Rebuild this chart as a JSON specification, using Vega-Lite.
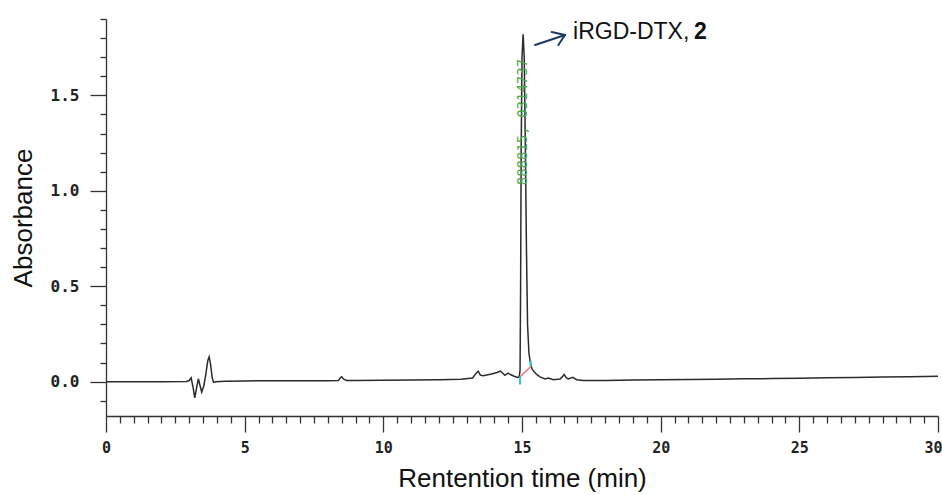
{
  "$schema": "https://vega.github.io/schema/vega-lite/v6.json",
  "width": 832,
  "height": 397,
  "autosize": "none",
  "padding": {"left": 106, "top": 19, "right": 4, "bottom": 79},
  "background": "white",
  "config": {"view": {"stroke": null}},
  "encoding": {
    "x": {
      "field": "t", "type": "quantitative",
      "scale": {"domain": [0, 30], "nice": false, "zero": false},
      "axis": {
        "title": "Rentention time (min)",
        "titleFont": "Liberation Sans", "titleFontSize": 26, "titleFontWeight": "normal", "titleColor": "#111",
        "titlePadding": 10,
        "values": [0,0.5,1,1.5,2,2.5,3,3.5,4,4.5,5,5.5,6,6.5,7,7.5,8,8.5,9,9.5,10,10.5,11,11.5,12,12.5,13,13.5,14,14.5,15,15.5,16,16.5,17,17.5,18,18.5,19,19.5,20,20.5,21,21.5,22,22.5,23,23.5,24,24.5,25,25.5,26,26.5,27,27.5,28,28.5,29,29.5,30],
        "labelExpr": "datum.value % 5 === 0 ? format(datum.value, 'd') : ''",
        "labelFont": "DejaVu Sans Mono", "labelFontSize": 15, "labelFontWeight": "bold", "labelColor": "#222",
        "labelFlush": false, "labelOverlap": false, "labelBound": false, "labelPadding": 8,
        "labelOffset": {"condition": {"test": "datum.value === 30", "value": -5}, "value": 0},
        "tickSize": {"condition": {"test": "datum.value % 5 === 0", "value": 16}, "value": 7},
        "tickColor": "#333", "tickWidth": 1.3,
        "domainColor": "#333", "domainWidth": 1.3,
        "grid": false
      }
    },
    "y": {
      "field": "a", "type": "quantitative",
      "scale": {"domain": [-0.18, 1.9], "nice": false, "zero": false},
      "axis": {
        "title": "Absorbance",
        "titleFont": "Liberation Sans", "titleFontSize": 26, "titleFontWeight": "normal", "titleColor": "#111",
        "titlePadding": 14,
        "values": [-0.1,0,0.1,0.2,0.3,0.4,0.5,0.6,0.7,0.8,0.9,1.0,1.1,1.2,1.3,1.4,1.5,1.6,1.7,1.8,1.9],
        "labelExpr": "abs(datum.value*2 - round(datum.value*2)) < 0.000001 ? format(datum.value, '.1f') : ''",
        "labelFont": "DejaVu Sans Mono", "labelFontSize": 16, "labelFontWeight": "bold", "labelColor": "#222",
        "labelOverlap": false, "labelPadding": 11, "labelBound": false, "labelFlush": false,
        "tickSize": {"condition": {"test": "abs(datum.value*2 - round(datum.value*2)) < 0.000001", "value": 16}, "value": 6},
        "tickColor": "#333", "tickWidth": 1.3,
        "domainColor": "#333", "domainWidth": 1.3,
        "grid": false
      }
    }
  },
  "layer": [
    {
      "data": {"values": [
        {"t":0,"a":0.0},{"t":1,"a":0.0},{"t":2,"a":0.0},{"t":2.9,"a":0.001},{"t":3.0,"a":0.006},{"t":3.07,"a":0.02},{"t":3.14,"a":-0.03},{"t":3.2,"a":-0.085},{"t":3.27,"a":-0.03},{"t":3.33,"a":0.015},{"t":3.39,"a":-0.02},{"t":3.45,"a":-0.055},{"t":3.53,"a":-0.02},{"t":3.6,"a":0.04},{"t":3.67,"a":0.11},{"t":3.72,"a":0.13},{"t":3.77,"a":0.09},{"t":3.83,"a":0.02},{"t":3.88,"a":-0.004},{"t":3.95,"a":-0.001},{"t":4.3,"a":0.002},{"t":5,"a":0.004},{"t":6,"a":0.005},{"t":7,"a":0.005},{"t":8,"a":0.005},{"t":8.38,"a":0.006},{"t":8.45,"a":0.02},{"t":8.5,"a":0.025},{"t":8.57,"a":0.013},{"t":8.68,"a":0.006},{"t":9,"a":0.006},{"t":10,"a":0.007},{"t":11,"a":0.008},{"t":12,"a":0.01},{"t":12.8,"a":0.013},{"t":13.22,"a":0.019},{"t":13.33,"a":0.042},{"t":13.42,"a":0.055},{"t":13.5,"a":0.034},{"t":13.6,"a":0.031},{"t":13.9,"a":0.04},{"t":14.1,"a":0.048},{"t":14.22,"a":0.055},{"t":14.3,"a":0.045},{"t":14.38,"a":0.033},{"t":14.5,"a":0.045},{"t":14.6,"a":0.036},{"t":14.72,"a":0.028},{"t":14.84,"a":0.022},{"t":14.9,"a":0.025},{"t":14.93,"a":0.06},{"t":14.95,"a":0.5},{"t":14.97,"a":1.2},{"t":15.0,"a":1.7},{"t":15.04,"a":1.82},{"t":15.08,"a":1.7},{"t":15.12,"a":1.25},{"t":15.16,"a":0.7},{"t":15.2,"a":0.3},{"t":15.25,"a":0.15},{"t":15.3,"a":0.1},{"t":15.35,"a":0.07},{"t":15.42,"a":0.054},{"t":15.55,"a":0.035},{"t":15.65,"a":0.025},{"t":15.83,"a":0.014},{"t":15.95,"a":0.019},{"t":16.13,"a":0.01},{"t":16.37,"a":0.014},{"t":16.45,"a":0.025},{"t":16.52,"a":0.037},{"t":16.6,"a":0.02},{"t":16.67,"a":0.014},{"t":16.83,"a":0.023},{"t":16.97,"a":0.01},{"t":17.2,"a":0.006},{"t":18,"a":0.006},{"t":19,"a":0.008},{"t":20,"a":0.01},{"t":21,"a":0.011},{"t":22,"a":0.013},{"t":23,"a":0.015},{"t":24,"a":0.016},{"t":25,"a":0.018},{"t":26,"a":0.02},{"t":27,"a":0.022},{"t":28,"a":0.024},{"t":29,"a":0.026},{"t":30,"a":0.028}
      ]},
      "mark": {"type": "line", "color": "#2b2b2b", "strokeWidth": 1.5, "clip": true},
      "encoding": {}
    },
    {
      "data": {"values": [
        {"t": 14.93, "a": 0.025, "t2": 15.31, "a2": 0.078}
      ]},
      "mark": {"type": "rule", "color": "#f07c7c", "strokeWidth": 1.5},
      "encoding": {
        "x2": {"field": "t2"},
        "y2": {"field": "a2"}
      }
    },
    {
      "data": {"values": [
        {"t": 14.93, "a": -0.015, "a2": 0.027},
        {"t": 15.31, "a": 0.078, "a2": 0.11}
      ]},
      "mark": {"type": "rule", "color": "#27c3d4", "strokeWidth": 2},
      "encoding": {
        "y2": {"field": "a2"}
      }
    },
    {
      "data": {"values": [
        {"t": 15.47, "a": 1.764, "t2": 16.55, "a2": 1.816},
        {"t": 16.07, "a": 1.832, "t2": 16.55, "a2": 1.816},
        {"t": 16.31, "a": 1.764, "t2": 16.55, "a2": 1.816}
      ]},
      "mark": {"type": "rule", "color": "#1f3a62", "strokeWidth": 2, "strokeCap": "round"},
      "encoding": {
        "x2": {"field": "t2"},
        "y2": {"field": "a2"}
      }
    },
    {
      "data": {"values": [{"t": 16.84, "a": 1.793, "label": "iRGD-DTX,"}]},
      "mark": {"type": "text", "align": "left", "baseline": "alphabetic", "font": "Liberation Sans", "fontSize": 23, "color": "#111"},
      "encoding": {
        "text": {"field": "label"}
      }
    },
    {
      "data": {"values": [{"t": 21.2, "a": 1.793, "label": "2"}]},
      "mark": {"type": "text", "align": "left", "baseline": "alphabetic", "font": "Liberation Sans", "fontSize": 23, "fontWeight": "bold", "color": "#111"},
      "encoding": {
        "text": {"field": "label"}
      }
    },
    {
      "data": {"values": [{"t": 15.02, "a": 1.36, "label": "888815, 0314737"}]},
      "mark": {"type": "text", "align": "center", "baseline": "middle", "angle": 270, "font": "DejaVu Sans Mono", "fontSize": 14, "color": "#4aa84a"},
      "encoding": {
        "text": {"field": "label"}
      }
    }
  ]
}
